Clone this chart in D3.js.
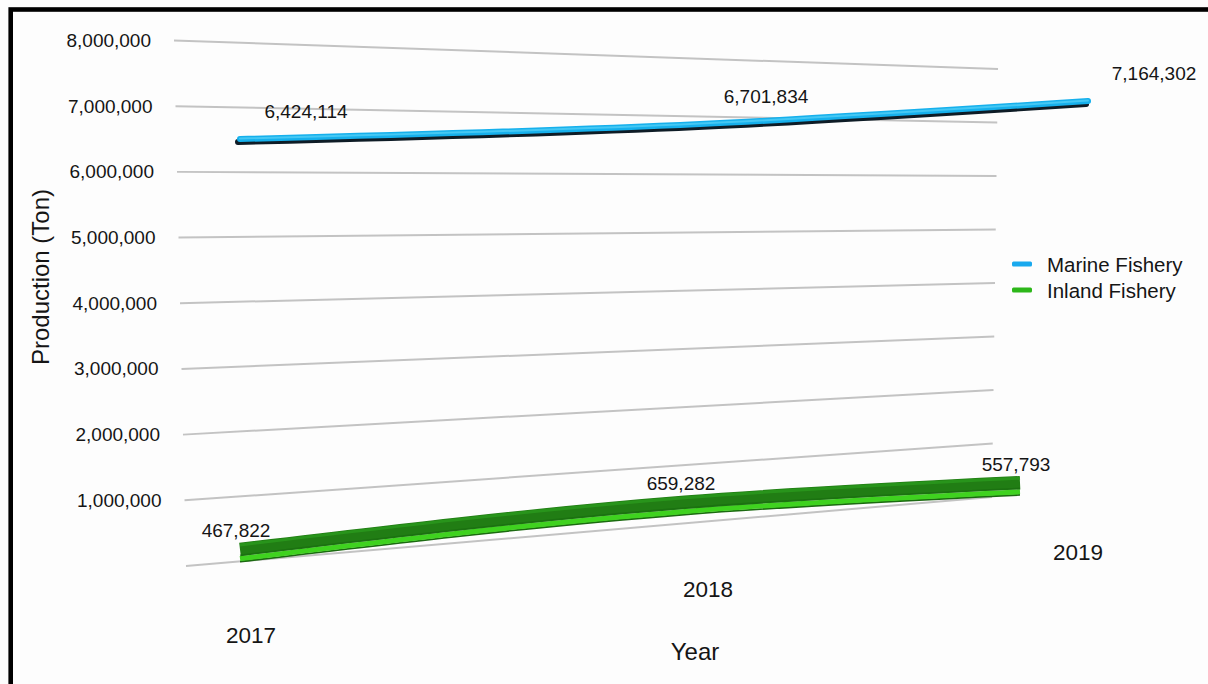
<!DOCTYPE html>
<html>
<head>
<meta charset="utf-8">
<script src="https://cdn.jsdelivr.net/npm/d3@7"></script>
<style>
  html, body { margin: 0; padding: 0; background: #fdfdfd; }
  svg { display: block; font-family: "Liberation Sans", Arial, Helvetica, sans-serif; }
</style>
</head>
<body>
<svg id="chart" width="1208" height="684"></svg>
<script>
// ---- data ----
const years = ["2017", "2018", "2019"];
const seriesNames = ["Marine Fishery", "Inland Fishery"];
const marine = [6424114, 6701834, 7164302];
const inland = [467822, 659282, 557793];
const gridValues = [0, 1000000, 2000000, 3000000, 4000000, 5000000, 6000000, 7000000, 8000000];
const tickValues = [1000000, 2000000, 3000000, 4000000, 5000000, 6000000, 7000000, 8000000];
const yTitle = "Production (Ton)";
const xTitle = "Year";

// ---- layout ----
const svg = d3.select("#chart");
const fmt = d3.format(",");
const txt = "#151515";

// back wall (grid plane) in perspective
const gridLeftY = d3.scaleLinear().domain([0, 8e6]).range([566, 40.5]);
const gridLeftX = d3.scaleLinear().domain([0, 8e6]).range([186, 174]);
const gridRightY = d3.scaleLinear().domain([0, 8e6]).range([497, 69]);
const gridRightX = d3.scaleLinear().domain([0, 8e6]).range([992, 998]);

// series plane in perspective
const serLeftY = d3.scaleLinear().domain([0, 8e6]).range([585.5, 29.5]);
const serRightY = d3.scaleLinear().domain([0, 8e6]).range([513, 53]);
const tScale = d3.scaleLinear().domain([240, 1088]).range([0, 1]);
function project(x, v) {
  const t = tScale(x);
  return [x, (1 - t) * serLeftY(v) + t * serRightY(v)];
}
const marineX = d3.scaleLinear().domain([0, 1, 2]).range([240, 700, 1088]);
const inlandX = d3.scaleLinear().domain([0, 1, 2]).range([240, 685, 1020]);

// category labels along receding floor
const catX = d3.scaleLinear().domain([0, 1, 2]).range([251, 708, 1078]);
const catY = d3.scaleLinear().domain([0, 1, 2]).range([635, 589, 552]);

// ---- grid lines ----
svg.append("g").selectAll("line").data(gridValues).join("line")
  .attr("x1", d => gridLeftX(d)).attr("y1", d => gridLeftY(d))
  .attr("x2", d => gridRightX(d)).attr("y2", d => gridRightY(d))
  .attr("stroke", "#c3c3c3").attr("stroke-width", 2);

// ---- y axis labels (perspective shifted) ----
const yAxis = d3.axisLeft(gridLeftY).tickValues(tickValues).tickFormat(fmt).tickSize(0);
const gAxis = svg.append("g").call(yAxis);
gAxis.select(".domain").remove();
gAxis.selectAll(".tick text")
  .attr("x", d => gridLeftX(d) - 23)
  .attr("dy", null)
  .attr("dominant-baseline", "central")
  .attr("font-size", 19)
  .attr("font-family", "Liberation Sans, Arial, sans-serif")
  .attr("fill", txt);
gAxis.selectAll(".tick").attr("transform", d => `translate(0,${gridLeftY(d)})`);

// ---- series ----
const line = d3.line().curve(d3.curveMonotoneX);
const marinePts = marine.map((v, i) => project(marineX(i), v));
const inlandPts = inland.map((v, i) => project(inlandX(i), v));
const shift = (pts, dx, dy) => pts.map(p => [p[0] + dx, p[1] + dy]);

// inland ribbon (3D look)
const gIn = svg.append("g");
gIn.append("path").attr("d", line(shift(inlandPts, 0, 8.7))).attr("fill", "none")
  .attr("stroke", "#1b6a10").attr("stroke-width", 1.8);
gIn.append("path").attr("d", line(shift(inlandPts, 0, 5.6))).attr("fill", "none")
  .attr("stroke", "#3fd21f").attr("stroke-width", 5);
gIn.append("path").attr("d", line(shift(inlandPts, 0, -3.5))).attr("fill", "none")
  .attr("stroke", "#217d14").attr("stroke-width", 13.4);
gIn.append("path").attr("d", line(shift(inlandPts, 0, -8))).attr("fill", "none")
  .attr("stroke", "#2a9a1d").attr("stroke-width", 3).attr("opacity", 0.8);
gIn.append("path").attr("d", line(shift(inlandPts, 0, 2.2))).attr("fill", "none")
  .attr("stroke", "#1a6c0f").attr("stroke-width", 1.6).attr("opacity", 0.7);

// marine tube
const gMa = svg.append("g");
gMa.append("path").attr("d", line(shift(marinePts, -2, 3))).attr("fill", "none")
  .attr("stroke", "#0e1c26").attr("stroke-width", 6).attr("stroke-linecap", "round");
gMa.append("path").attr("d", line(marinePts)).attr("fill", "none")
  .attr("stroke", "#16b0ec").attr("stroke-width", 6).attr("stroke-linecap", "round");
gMa.append("path").attr("d", line(shift(marinePts, 0, -0.5))).attr("fill", "none")
  .attr("stroke", "#45c8f4").attr("stroke-width", 2).attr("stroke-linecap", "round");

// ---- data labels ----
svg.append("g").selectAll("text").data(marinePts).join("text")
  .attr("x", d => d[0] + 66).attr("y", d => d[1] - 28)
  .attr("text-anchor", "middle").attr("dominant-baseline", "central")
  .attr("font-size", 19).attr("fill", txt)
  .text((d, i) => fmt(marine[i]));
svg.append("g").selectAll("text").data(inlandPts).join("text")
  .attr("x", d => d[0] - 4).attr("y", d => d[1] - 22)
  .attr("text-anchor", "middle").attr("dominant-baseline", "central")
  .attr("font-size", 19).attr("fill", txt)
  .text((d, i) => fmt(inland[i]));

// ---- category labels ----
svg.append("g").selectAll("text").data(years).join("text")
  .attr("x", (d, i) => catX(i)).attr("y", (d, i) => catY(i))
  .attr("text-anchor", "middle").attr("dominant-baseline", "central")
  .attr("font-size", 22.5).attr("fill", txt)
  .text(d => d);

// ---- axis titles ----
svg.append("text")
  .attr("transform", "translate(40,277) rotate(-90)")
  .attr("text-anchor", "middle").attr("dominant-baseline", "central")
  .attr("font-size", 24).attr("fill", txt).text(yTitle);
svg.append("text")
  .attr("x", 695).attr("y", 651)
  .attr("text-anchor", "middle").attr("dominant-baseline", "central")
  .attr("font-size", 24).attr("fill", txt).text(xTitle);

// ---- legend ----
const legendColors = ["#19a9ee", "#2db71a"];
const lg = svg.append("g").selectAll("g").data(seriesNames).join("g")
  .attr("transform", (d, i) => `translate(1012,${264 + i * 26})`);
lg.append("rect").attr("x", 0).attr("y", -2.5).attr("width", 20).attr("height", 5)
  .attr("rx", 1.5).attr("fill", (d, i) => legendColors[i]);
lg.append("text").attr("x", 35).attr("y", 0)
  .attr("dominant-baseline", "central")
  .attr("font-size", 20.5).attr("fill", txt).text(d => d);

// ---- frame ----
svg.append("rect")
  .attr("x", 10.7).attr("y", 9.5).attr("width", 1400).attr("height", 900)
  .attr("fill", "none").attr("stroke", "#000").attr("stroke-width", 4.6);
</script>
</body>
</html>
